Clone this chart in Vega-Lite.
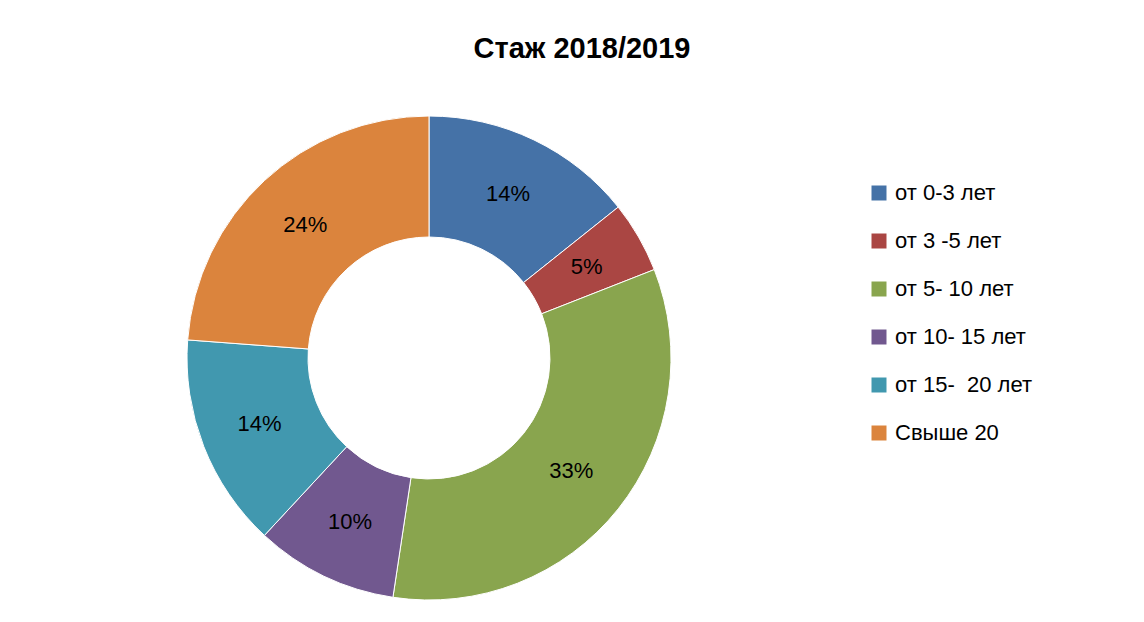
{
  "$schema": "https://vega.github.io/schema/vega-lite/v6.json",
  "width": 858,
  "height": 528,
  "autosize": {"type": "none"},
  "padding": {"left": 0, "top": 94, "right": 286, "bottom": 0},
  "background": "white",
  "config": {"view": {"stroke": null}},
  "title": {
    "text": "Стаж 2018/2019",
    "font": "Liberation Sans",
    "fontSize": 29,
    "fontWeight": "bold",
    "color": "#000",
    "anchor": "middle",
    "dx": 153,
    "baseline": "alphabetic",
    "offset": 7
  },
  "data": {
    "values": [
      {"i": 1, "cat": "от 0-3 лет", "n": 3, "label": "14%"},
      {"i": 2, "cat": "от 3 -5 лет", "n": 1, "label": "5%"},
      {"i": 3, "cat": "от 5- 10 лет", "n": 7, "label": "33%"},
      {"i": 4, "cat": "от 10- 15 лет", "n": 2, "label": "10%"},
      {"i": 5, "cat": "от 15- \u00a020 лет", "n": 3, "label": "14%"},
      {"i": 6, "cat": "Свыше 20", "n": 5, "label": "24%"}
    ]
  },
  "encoding": {
    "theta": {"field": "n", "type": "quantitative", "stack": true},
    "order": {"field": "i", "type": "quantitative"}
  },
  "layer": [
    {
      "mark": {"type": "arc", "outerRadius": 242, "innerRadius": 121, "stroke": "#ffffff", "strokeWidth": 1},
      "encoding": {
        "color": {
          "field": "cat",
          "type": "nominal",
          "scale": {
            "domain": ["от 0-3 лет", "от 3 -5 лет", "от 5- 10 лет", "от 10- 15 лет", "от 15- \u00a020 лет", "Свыше 20"],
            "range": ["#4572A7", "#AA4643", "#89A54E", "#71588F", "#4198AF", "#DB843D"]
          },
          "legend": {
            "title": null,
            "orient": "none",
            "legendX": 868,
            "legendY": 88,
            "padding": 0,
            "symbolType": "square",
            "symbolSize": 225,
            "symbolStrokeWidth": 0,
            "labelFontSize": 22,
            "labelFont": "Liberation Sans",
            "labelColor": "#000",
            "labelOffset": 5,
            "rowPadding": 26,
            "labelLimit": 300
          }
        }
      }
    },
    {
      "mark": {"type": "text", "radius": 182, "fontSize": 22, "font": "Liberation Sans"},
      "encoding": {
        "text": {"field": "label"},
        "detail": {"field": "cat"},
        "color": {"value": "#000"}
      }
    }
  ]
}
